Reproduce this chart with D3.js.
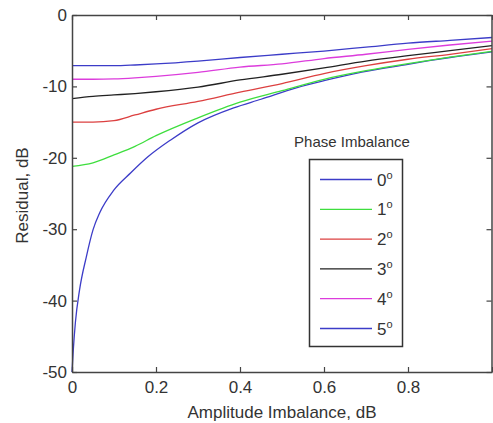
<!DOCTYPE html>
<html>
<head>
<meta charset="utf-8">
<script src="https://cdn.jsdelivr.net/npm/d3@7"></script>
<style>
  body { margin: 0; background: #fff; }
  svg { display: block; font-family: "Liberation Sans", Arial, sans-serif; }
  .tick text { fill: #333; }
</style>
</head>
<body>
<div id="chart"></div>
<script>
// amplitude imbalance (dB) sample points
const ampGrid = [0, 0.05, 0.1, 0.15, 0.2, 0.3, 0.4, 0.5, 0.6, 0.7, 0.8, 0.9, 1.0];
const phase1 = [-21.2, -20.7, -19.6, -18.4, -16.9, -14.4, -12.2, -10.6, -9.0, -7.8, -6.8, -5.9, -5.1];
const phase2 = [-15.0, -15.0, -14.8, -14.0, -13.2, -12.1, -10.8, -9.6, -8.2, -7.1, -6.2, -5.5, -4.7];
const phase3 = [-11.7, -11.4, -11.2, -11.0, -10.75, -10.1, -9.1, -8.3, -7.4, -6.45, -5.7, -5.0, -4.3];
const phase4 = [-9.0, -9.0, -8.95, -8.8, -8.6, -8.05, -7.3, -6.85, -6.1, -5.5, -4.8, -4.2, -3.65];
const phase5 = [-7.1, -7.1, -7.1, -7.0, -6.85, -6.45, -5.95, -5.5, -5.05, -4.5, -3.95, -3.55, -3.15];

// 0 degree curve needs more points near zero
const ampGrid0 = [0, 0.003, 0.008, 0.018, 0.034, 0.05, 0.066, 0.1, 0.14, 0.18, 0.235, 0.3, 0.385, 0.45, 0.534, 0.6, 0.69, 0.8, 0.85, 0.9, 1.0];
const phase0 = [-50, -47, -43.1, -38.5, -33.9, -30.1, -27.7, -24.5, -22.1, -19.9, -17.5, -15.1, -13.0, -11.8, -10.2, -9.2, -8.0, -6.9, -6.4, -5.95, -5.15];

const phaseLabels = ["0", "1", "2", "3", "4", "5"];
const xTicks = [0, 0.2, 0.4, 0.6, 0.8, 1];
const yTicks = [0, -10, -20, -30, -40, -50];

const colors = ["#3c3cc8", "#3ede3e", "#dc4040", "#222222", "#dc3cdc", "#3c3cc8"];

let series = [
    {label: phaseLabels[0], xs: ampGrid0, ys: phase0},
    {label: phaseLabels[1], xs: ampGrid, ys: phase1},
    {label: phaseLabels[2], xs: ampGrid, ys: phase2},
    {label: phaseLabels[3], xs: ampGrid, ys: phase3},
    {label: phaseLabels[4], xs: ampGrid, ys: phase4},
    {label: phaseLabels[5], xs: ampGrid, ys: phase5}
];

let width = 493, height = 423;
let margin = {top: 15, right: 1, bottom: 51, left: 72};

let svg = d3.select("#chart").append("svg")
    .attr("width", width)
    .attr("height", height);

let x = d3.scaleLinear().domain([0, 1]).range([margin.left, width - margin.right]);
let y = d3.scaleLinear().domain([-50, 0]).range([height - margin.bottom, margin.top]);

// curves
let line = d3.line()
    .x(d => x(d[0]))
    .y(d => y(d[1]))
    .curve(d3.curveMonotoneX);

svg.append("g").selectAll("path")
    .data(series)
    .enter().append("path")
    .attr("fill", "none")
    .attr("stroke", (d, i) => colors[i])
    .attr("stroke-width", 1.3)
    .attr("d", d => line(d.xs.map((v, i) => [v, d.ys[i]])));

// axes (box with inward ticks, matlab style); the "1" label falls outside the picture
let axisColor = "#444";
svg.append("g")
    .attr("transform", "translate(0," + y(-50) + ")")
    .call(d3.axisBottom(x).tickValues(xTicks).tickFormat(d => d === 1 ? "" : String(d))
        .tickSizeInner(-5).tickSizeOuter(0).tickPadding(9));
svg.append("g")
    .attr("transform", "translate(" + x(0) + ",0)")
    .call(d3.axisLeft(y).tickValues(yTicks).tickFormat(d => String(d))
        .tickSizeInner(-5).tickSizeOuter(0).tickPadding(5));
svg.append("g")
    .attr("transform", "translate(0," + y(0) + ")")
    .call(d3.axisTop(x).tickValues(xTicks).tickFormat("").tickSizeInner(-5).tickSizeOuter(0));
svg.append("g")
    .attr("transform", "translate(" + (x(1) - 0.5) + ",0)")
    .call(d3.axisRight(y).tickValues(yTicks).tickFormat("").tickSizeInner(-5).tickSizeOuter(0));

svg.selectAll(".domain").attr("stroke", axisColor).attr("stroke-width", 1.5);
svg.selectAll(".tick line").attr("stroke", axisColor).attr("stroke-width", 1.2);
svg.selectAll(".tick text").attr("font-size", 17).attr("font-family", "Liberation Sans, Arial, sans-serif");

// axis titles
svg.append("text")
    .attr("x", (x(0) + x(1)) / 2)
    .attr("y", 418)
    .attr("text-anchor", "middle")
    .attr("font-size", 17)
    .attr("fill", "#333")
    .text("Amplitude Imbalance, dB");

svg.append("text")
    .attr("transform", "translate(28," + (y(-25) + 2) + ") rotate(-90)")
    .attr("text-anchor", "middle")
    .attr("font-size", 17)
    .attr("fill", "#333")
    .text("Residual, dB");

// legend
let legend = svg.append("g");
legend.append("text")
    .attr("x", 352)
    .attr("y", 147)
    .attr("text-anchor", "middle")
    .attr("font-size", 15)
    .attr("fill", "#333")
    .text("Phase Imbalance");

legend.append("rect")
    .attr("x", 309.5)
    .attr("y", 159.5)
    .attr("width", 93)
    .attr("height", 187)
    .attr("fill", "#fff")
    .attr("stroke", "#333")
    .attr("stroke-width", 1.5);

let items = legend.selectAll(".item")
    .data(series)
    .enter().append("g")
    .attr("class", "item")
    .attr("transform", (d, i) => "translate(0," + (179.5 + i * 29.8) + ")");

items.append("line")
    .attr("x1", 320).attr("x2", 372)
    .attr("stroke", (d, i) => colors[i])
    .attr("stroke-width", 1.3);

let lbl = items.append("text")
    .attr("x", 377)
    .attr("y", 6)
    .attr("font-size", 17)
    .attr("fill", "#333");
lbl.append("tspan").text(d => d.label);
lbl.append("tspan").attr("dy", -7).attr("font-size", 11).text("o");
</script>
</body>
</html>
